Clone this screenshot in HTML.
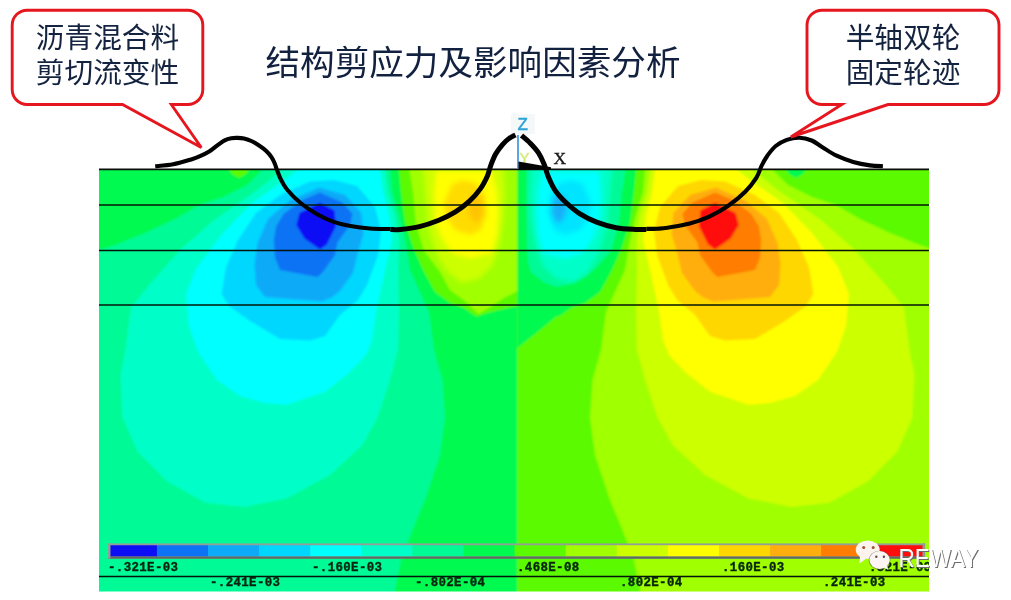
<!DOCTYPE html>
<html lang="zh">
<head>
<meta charset="utf-8">
<title>结构剪应力及影响因素分析</title>
<style>
html,body{margin:0;padding:0;background:#fff;}
body{width:1011px;height:600px;position:relative;overflow:hidden;font-family:"Liberation Sans","Noto Sans CJK SC",sans-serif;}
#stage{position:absolute;left:0;top:0;width:1011px;height:600px;display:block;}
.title{will-change:transform;opacity:0.999;position:absolute;left:0;top:0;width:946px;text-align:center;color:#12213f;font-size:34.6px;line-height:40px;top:43px;white-space:nowrap;letter-spacing:0;}
.call{will-change:transform;opacity:0.999;position:absolute;color:#14233f;font-size:28.7px;line-height:35px;text-align:center;white-space:nowrap;}
#c1{left:12px;top:20.5px;width:191px;}
#c2{left:807px;top:20.5px;width:192px;}
</style>
</head>
<body>
<svg id="stage" width="1011" height="600" viewBox="0 0 1011 600">
<defs>
<clipPath id="plotclip"><rect x="99.0" y="169.3" width="830.0" height="422.2"/></clipPath>
<clipPath id="legclip"><rect x="110" y="545.2" width="812.8" height="11.3"/></clipPath>
<filter id="soft" x="-2%" y="-2%" width="104%" height="104%"><feGaussianBlur stdDeviation="1.3"/></filter>
<filter id="softer" filterUnits="userSpaceOnUse" x="380" y="150" width="280" height="180"><feGaussianBlur stdDeviation="2.4"/></filter>
<filter id="soft2" x="-5%" y="-20%" width="110%" height="140%"><feGaussianBlur stdDeviation="0.45"/></filter>
<filter id="soft3" x="-5%" y="-5%" width="110%" height="110%"><feGaussianBlur stdDeviation="0.5"/></filter>
</defs>
<!-- contour plot -->
<g clip-path="url(#plotclip)">
<g filter="url(#soft)">
<rect x="90" y="160" width="427.5" height="440" fill="#00fa96"/>
<rect x="517.5" y="160" width="422.5" height="440" fill="#a0ff00"/>
<polygon fill="#00fa50" points="90.0,160.0 264.0,160.0 263.0,169.0 247.0,185.0 223.0,197.0 199.0,205.0 175.0,219.0 145.0,233.0 115.0,245.0 90.0,253.0"/>
<polygon fill="#00fa50" points="389.0,160.0 392.0,192.0 399.0,215.0 405.0,240.0 410.0,270.0 420.0,292.0 429.0,312.0 434.0,350.0 442.5,380.0 445.0,417.5 440.0,455.0 425.0,500.0 412.5,530.0 401.0,560.0 393.0,600.0 517.5,600.0 517.5,160.0"/>
<polygon fill="#00ffc8" points="284.0,160.0 282.0,170.0 256.6,190.5 214.0,220.0 180.0,250.0 150.0,284.0 131.0,307.5 125.5,350.0 120.5,375.0 122.6,417.6 137.5,451.6 167.3,481.4 205.6,502.7 243.9,507.0 286.4,498.4 330.0,475.0 362.5,445.0 377.5,417.5 390.0,380.0 398.0,350.0 399.0,312.0 398.0,270.0 399.0,240.0 395.0,215.0 388.0,192.0 384.0,160.0"/>
<polygon fill="#00ffff" points="300.0,160.0 299.0,169.0 282.0,182.0 252.0,203.0 223.0,233.0 197.0,267.0 186.0,294.0 189.0,326.0 198.0,352.0 217.0,380.0 240.0,396.0 265.0,403.0 286.4,404.8 324.7,392.0 350.0,372.0 366.0,355.0 372.0,340.0 376.0,312.0 385.0,270.0 392.0,240.0 389.0,215.0 383.0,192.0 379.0,160.0"/>
<polygon fill="#05d7ff" points="221.5,294.0 226.0,267.0 238.0,240.0 256.0,213.0 280.0,195.0 310.0,181.5 334.0,180.0 357.0,186.0 375.0,207.0 381.0,231.0 378.0,255.0 367.0,285.0 358.0,300.0 340.0,315.0 325.0,336.0 310.0,340.5 280.0,339.0 250.0,321.0 229.0,306.0"/>
<polygon fill="#0aaaf8" points="254.5,264.0 257.5,243.0 268.0,219.0 289.0,201.0 319.0,187.5 345.0,195.0 361.5,213.0 363.5,234.0 358.0,252.0 353.0,273.0 340.0,291.0 332.5,297.0 322.0,301.5 265.0,297.0 256.0,285.0"/>
<polygon fill="#0a73f5" points="273.8,240.0 276.2,226.2 283.8,213.8 302.5,200.0 320.0,192.5 342.5,202.5 352.5,213.8 350.0,225.0 337.5,242.5 335.0,255.0 322.5,272.5 317.5,277.0 280.0,270.0 275.0,257.5"/>
<polygon fill="#0a0af5" points="299.5,213.0 320.0,202.8 334.5,210.5 336.0,226.2 327.0,244.2 320.0,249.5 304.5,238.5 296.3,225.0"/>
<polygon fill="#5cfa00" points="226.0,165.0 252.0,165.0 246.0,174.0 239.0,178.0 232.0,174.0"/>
<polygon fill="#5cfa00" points="398.0,160.0 401.0,192.0 405.0,222.0 413.0,247.0 423.0,270.0 435.0,292.0 450.0,303.0 464.0,308.0 476.0,316.5 495.0,311.0 517.5,306.0 517.5,160.0"/>
<polygon fill="#a0ff00" points="408.0,160.0 413.0,192.0 416.0,223.7 424.0,250.4 440.0,272.0 450.0,290.0 465.0,301.0 478.4,314.0 491.8,306.0 504.0,298.0 517.5,291.0 517.5,160.0"/>
<polygon fill="#5cfa00" points="945.0,160.0 771.0,160.0 772.0,169.0 788.0,185.0 812.0,197.0 836.0,205.0 860.0,219.0 890.0,233.0 920.0,245.0 945.0,253.0"/>
<polygon fill="#5cfa00" points="646.0,160.0 643.0,192.0 636.0,215.0 630.0,240.0 625.0,270.0 615.0,292.0 606.0,312.0 601.0,350.0 592.5,380.0 590.0,417.5 595.0,455.0 610.0,500.0 622.5,530.0 634.0,560.0 642.0,600.0 517.5,600.0 517.5,160.0"/>
<polygon fill="#ccff00" points="751.0,160.0 753.0,170.0 778.4,190.5 821.0,220.0 855.0,250.0 885.0,284.0 904.0,307.5 909.5,350.0 914.5,375.0 912.4,417.6 897.5,451.6 867.7,481.4 829.4,502.7 791.1,507.0 748.6,498.4 705.0,475.0 672.5,445.0 657.5,417.5 645.0,380.0 637.0,350.0 636.0,312.0 637.0,270.0 636.0,240.0 640.0,215.0 647.0,192.0 651.0,160.0"/>
<polygon fill="#ffff00" points="735.0,160.0 736.0,169.0 753.0,182.0 783.0,203.0 812.0,233.0 838.0,267.0 849.0,294.0 846.0,326.0 837.0,352.0 818.0,380.0 795.0,396.0 770.0,403.0 748.6,404.8 710.3,392.0 685.0,372.0 669.0,355.0 663.0,340.0 659.0,312.0 650.0,270.0 643.0,240.0 646.0,215.0 652.0,192.0 656.0,160.0"/>
<polygon fill="#ffd700" points="813.5,294.0 809.0,267.0 797.0,240.0 779.0,213.0 755.0,195.0 725.0,181.5 701.0,180.0 678.0,186.0 660.0,207.0 654.0,231.0 657.0,255.0 668.0,285.0 677.0,300.0 695.0,315.0 710.0,336.0 725.0,340.5 755.0,339.0 785.0,321.0 806.0,306.0"/>
<polygon fill="#ffae10" points="780.5,264.0 777.5,243.0 767.0,219.0 746.0,201.0 716.0,187.5 690.0,195.0 673.5,213.0 671.5,234.0 677.0,252.0 682.0,273.0 695.0,291.0 702.5,297.0 713.0,301.5 770.0,297.0 779.0,285.0"/>
<polygon fill="#ff7d00" points="761.2,240.0 758.8,226.2 751.2,213.8 732.5,200.0 715.0,192.5 692.5,202.5 682.5,213.8 685.0,225.0 697.5,242.5 700.0,255.0 712.5,272.5 717.5,277.0 755.0,270.0 760.0,257.5"/>
<polygon fill="#ff0a0a" points="735.5,213.0 715.0,202.8 700.5,210.5 699.0,226.2 708.0,244.2 715.0,249.5 730.5,238.5 738.7,225.0"/>
<polygon fill="#00fa50" points="809.0,165.0 783.0,165.0 789.0,174.0 796.0,178.0 803.0,174.0"/>
<polygon fill="#00fa50" points="637.0,160.0 634.0,192.0 630.0,222.0 622.0,247.0 612.0,270.0 600.0,292.0 585.0,303.0 571.0,308.0 559.0,316.5 540.0,311.0 517.5,306.0 517.5,160.0"/>
<polygon fill="#00fa50" points="517.5,300.0 563.0,311.0 540.0,330.0 517.5,348.0"/>
<polygon fill="#00fa96" points="627.0,160.0 622.0,192.0 619.0,223.7 611.0,250.4 598.0,266.0 585.0,277.0 570.0,284.0 556.6,287.0 543.2,282.0 531.0,272.0 528.0,262.0 526.5,230.0 526.5,160.0"/>
</g>
<g filter="url(#softer)">
<polygon fill="#ccff00" points="422.0,160.0 425.0,192.0 428.0,226.4 436.0,253.0 447.0,271.8 461.0,282.4 478.4,279.0 491.8,266.4 499.8,245.0 503.8,218.4 505.0,191.7 503.0,160.0"/>
<polygon fill="#ffff00" points="436.0,171.0 434.0,192.0 435.0,218.4 441.0,237.0 452.0,253.0 470.0,258.0 491.8,253.0 497.0,234.4 498.4,213.0 496.8,191.7 492.0,171.0"/>
<polygon fill="#ffdc00" points="452.0,184.0 444.0,203.0 446.0,217.0 455.0,230.0 470.0,235.0 481.0,230.0 487.0,213.0 485.0,195.0 476.0,183.0 463.0,180.0"/>
<polygon fill="#ffc400" points="470.0,197.0 468.0,210.0 472.0,221.0 479.0,223.0 483.5,213.0 481.5,199.0 476.0,193.0"/>
<polygon fill="#00ffc8" points="613.0,160.0 610.0,192.0 607.0,226.4 599.0,253.0 588.0,271.8 574.0,282.4 556.6,279.0 543.2,266.4 535.2,245.0 531.2,218.4 530.0,191.7 532.0,160.0"/>
<polygon fill="#00ffff" points="599.0,171.0 601.0,192.0 600.0,218.4 594.0,237.0 583.0,253.0 565.0,258.0 543.2,253.0 538.0,234.4 536.6,213.0 538.2,191.7 543.0,171.0"/>
<polygon fill="#04e4ff" points="583.0,184.0 591.0,203.0 589.0,217.0 580.0,230.0 565.0,235.0 554.0,230.0 548.0,213.0 550.0,195.0 559.0,183.0 572.0,180.0"/>
<polygon fill="#14b0f8" points="565.0,197.0 567.0,210.0 563.0,221.0 556.0,223.0 551.5,213.0 553.5,199.0 559.0,193.0"/>
</g>
<!-- legend bar -->
<rect x="108" y="543.4" width="817" height="15.2" fill="#939e97"/>
<rect x="108" y="556.4" width="817" height="2.3" fill="#5f6b62"/>
<g clip-path="url(#legclip)"><g filter="url(#soft3)">
<rect x="110.2" y="545" width="47.2" height="11.5" fill="#0a0af5"/>
<rect x="156.9" y="545" width="51.6" height="11.5" fill="#0a73f5"/>
<rect x="208.0" y="545" width="51.6" height="11.5" fill="#0aaaf8"/>
<rect x="259.1" y="545" width="51.6" height="11.5" fill="#05d7ff"/>
<rect x="310.2" y="545" width="51.6" height="11.5" fill="#00ffff"/>
<rect x="361.3" y="545" width="51.6" height="11.5" fill="#00ffc8"/>
<rect x="412.4" y="545" width="51.6" height="11.5" fill="#00fa96"/>
<rect x="463.5" y="545" width="51.6" height="11.5" fill="#00fa50"/>
<rect x="514.6" y="545" width="51.6" height="11.5" fill="#5cfa00"/>
<rect x="565.7" y="545" width="51.6" height="11.5" fill="#a0ff00"/>
<rect x="616.8" y="545" width="51.6" height="11.5" fill="#ccff00"/>
<rect x="667.9" y="545" width="51.6" height="11.5" fill="#ffff00"/>
<rect x="719.0" y="545" width="51.6" height="11.5" fill="#ffd700"/>
<rect x="770.1" y="545" width="51.6" height="11.5" fill="#ffae10"/>
<rect x="821.2" y="545" width="51.6" height="11.5" fill="#ff7d00"/>
<rect x="872.3" y="545" width="51.6" height="11.5" fill="#ff0a0a"/>
</g></g>
<rect x="108" y="543.4" width="2.3" height="15.2" fill="#939e97"/>
<rect x="922.6" y="543.4" width="2.6" height="15.2" fill="#8f9a94"/>
<!-- layer lines -->
<g stroke="#04140a" stroke-width="1.5">
<line x1="99" y1="205" x2="929" y2="205"/>
<line x1="99" y1="250.6" x2="929" y2="250.6"/>
<line x1="99" y1="305" x2="929" y2="305"/>
<line x1="99" y1="576.4" x2="929" y2="576.4"/>
</g>
<g font-family="'Liberation Mono',monospace" font-weight="bold" font-size="12.4" letter-spacing="0.38" fill="#08240f" stroke="#08240f" stroke-width="0.35" filter="url(#soft2)">
<text x="108" y="571">-.321E-03</text>
<text x="210" y="586">-.241E-03</text>
<text x="312" y="571">-.160E-03</text>
<text x="415" y="586">-.802E-04</text>
<text x="517" y="571">.468E-08</text>
<text x="620" y="586">.802E-04</text>
<text x="722" y="571">.160E-03</text>
<text x="823" y="586">.241E-03</text>
<text x="869" y="571">.321E-03</text>
</g>
</g>
<line x1="99" y1="169.4" x2="929" y2="169.4" stroke="#0a0f0a" stroke-width="1.6"/>
<!-- axis triad -->
<rect x="511" y="114" width="24" height="20" fill="#f3f6f8" opacity="0.8"/>
<line x1="518" y1="135" x2="518" y2="168.5" stroke="#3f97dc" stroke-width="1.7"/>
<text x="517.6" y="130" font-family="'Liberation Mono',monospace" font-size="18" fill="#2aa3d6" stroke="#2aa3d6" stroke-width="0.5" opacity="0.99" textLength="10.5" lengthAdjust="spacingAndGlyphs">Z</text>
<text x="519.5" y="163.8" font-family="'Liberation Mono',monospace" font-size="16.5" fill="#cfe860" stroke="#cfe860" stroke-width="0.4" opacity="0.85">Y</text>
<polygon points="518.5,161.5 527,163 540,165.3 551,167.2 551,169.5 518.5,169.5" fill="#050505"/>
<text x="553.5" y="164.3" font-family="'Liberation Serif',serif" font-size="17.5" fill="#151515" stroke="#151515" stroke-width="0.35" opacity="0.99">X</text>
<!-- rut profile -->
<g fill="none" stroke="#020202" stroke-linecap="butt" stroke-linejoin="round">
<path stroke-width="4.1" d="M155.2,166.2 C158.2,165.9 167.0,165.5 173.2,164.3 C179.4,163.1 188.1,160.3 192.6,159.0 C197.1,157.7 197.2,157.4 200.0,156.2 C202.8,155.0 206.1,153.5 209.2,151.6 C212.2,149.7 215.7,146.6 218.3,144.7 C220.9,142.8 222.5,141.4 224.7,140.3 C226.8,139.2 229.0,138.6 231.2,138.2 C233.3,137.8 235.5,137.9 237.6,137.9 C239.7,137.9 241.7,137.9 244.0,138.4 C246.3,138.9 248.9,139.9 251.3,141.0 C253.8,142.1 256.2,143.6 258.7,145.2 C261.1,146.8 263.9,148.7 266.0,150.7 C268.1,152.7 270.1,155.0 271.5,157.1 C272.9,159.2 273.8,161.4 274.7,163.5 C275.6,165.6 276.0,167.3 277.0,169.9 C278.0,172.5 279.1,175.9 280.7,179.1 C282.3,182.3 283.5,185.2 286.8,189.2 C290.1,193.2 295.5,198.8 300.6,203.0 C305.7,207.2 311.7,211.0 317.2,214.2 C322.7,217.3 328.2,219.9 333.8,221.9 C339.4,223.9 344.5,224.9 350.5,226.0 C356.5,227.1 363.3,228.0 369.9,228.5 C376.5,229.0 386.9,228.9 390.3,229.0"/>
<path stroke-width="5" d="M390.3,229.5 C391.9,229.5 395.1,230.0 400.0,229.5 C404.9,229.0 412.9,228.2 419.4,226.6 C425.9,225.0 432.8,222.6 438.8,220.2 C444.8,217.8 450.3,215.0 455.4,211.9 C460.5,208.8 465.0,205.2 469.2,201.4 C473.4,197.6 477.3,193.1 480.3,188.9 C483.3,184.8 485.4,180.4 487.2,176.5 C488.9,172.6 489.4,169.1 490.8,165.4 C492.2,161.7 493.6,157.8 495.5,154.3 C497.4,150.8 500.2,147.3 502.5,144.6 C504.8,141.9 507.2,139.8 509.4,138.2 C511.6,136.6 514.5,135.4 515.5,134.9"/>
<path stroke-width="5" d="M521.5,135.5 C523.0,136.8 527.4,140.3 530.2,143.2 C533.0,146.1 536.2,149.4 538.5,152.9 C540.8,156.4 542.4,160.1 544.0,164.0 C545.6,167.9 546.4,172.1 548.2,176.5 C550.1,180.9 552.1,185.9 555.1,190.3 C558.1,194.7 562.1,198.9 566.2,202.8 C570.4,206.7 574.9,210.7 580.0,213.9 C585.1,217.1 590.6,219.9 596.6,222.2 C602.6,224.5 609.5,226.5 616.0,227.7 C622.5,228.9 630.4,229.2 635.4,229.5 C640.4,229.8 644.5,229.5 646.3,229.5"/>
<path stroke-width="4.1" d="M646.3,228.9 C648.2,228.9 654.0,228.9 657.6,228.7 C661.2,228.5 662.3,228.6 667.7,227.7 C673.1,226.8 682.9,225.3 689.8,223.5 C696.7,221.7 702.7,219.6 709.2,216.6 C715.7,213.6 722.6,209.7 728.6,205.5 C734.6,201.3 740.6,196.3 745.2,191.7 C749.8,187.1 753.5,182.2 756.3,177.8 C759.1,173.4 759.9,169.1 761.8,165.4 C763.6,161.7 765.1,158.9 767.4,155.7 C769.7,152.5 772.5,148.6 775.7,146.0 C778.9,143.4 782.9,141.3 786.8,139.9 C790.7,138.5 795.1,137.6 799.2,137.7 C803.4,137.8 807.8,138.9 811.7,140.5 C815.6,142.1 818.6,144.9 822.8,147.4 C826.9,149.9 831.5,153.3 836.6,155.7 C841.7,158.1 847.7,160.4 853.2,162.0 C858.8,163.6 865.0,164.7 869.9,165.4 C874.8,166.1 880.7,166.1 882.9,166.2"/>
</g>
<!-- callouts -->
<g fill="#ffffff" stroke="#e6161e" stroke-width="2.9" stroke-linejoin="miter">
<path d="M27.2,10.2 H187.8 A15,15 0 0 1 202.8,25.2 V89.5 A15,15 0 0 1 187.8,104.5 H171.3 L201.3,147.5 L122.5,104.5 H27.2 A15,15 0 0 1 12.2,89.5 V25.2 A15,15 0 0 1 27.2,10.2 Z"/>
<path d="M822,10.2 H984 A15,15 0 0 1 999,25.2 V89.5 A15,15 0 0 1 984,104.5 H888 L790.8,137 L841.8,104.5 H822 A15,15 0 0 1 807,89.5 V25.2 A15,15 0 0 1 822,10.2 Z"/>
</g>
<!-- watermark -->
<g>
<ellipse cx="867.7" cy="549.8" rx="12" ry="9.2" fill="#fdf3ee"/>
<polygon points="860,556 859.5,563.5 867,558" fill="#fdf3ee"/>
<circle cx="863.7" cy="547.6" r="1.5" fill="#a0532d"/>
<circle cx="873.2" cy="547.6" r="1.5" fill="#a0532d"/>
<ellipse cx="879.6" cy="560.3" rx="10.8" ry="9.6" fill="#4a4a3a" opacity="0.55"/>
<ellipse cx="879.6" cy="560" rx="10.2" ry="9" fill="#fcf5f3"/>
<polygon points="883,567 888.5,570 886.5,564" fill="#fcf5f3"/>
<circle cx="876.3" cy="556.8" r="1.2" fill="#5a4a4a"/>
<circle cx="883.9" cy="556.8" r="1.2" fill="#5a4a4a"/>
<g font-family="'Liberation Sans',sans-serif" font-size="26" opacity="0.99">
<text x="899.6" y="568" fill="#6a6a6a" textLength="80" lengthAdjust="spacingAndGlyphs">REWAY</text>
<text x="898.6" y="567" fill="#ffffff" textLength="80" lengthAdjust="spacingAndGlyphs">REWAY</text>
</g>
</g>
</svg>
<div class="title">结构剪应力及影响因素分析</div>
<div class="call" id="c1">沥青混合料<br>剪切流变性</div>
<div class="call" id="c2">半轴双轮<br>固定轮迹</div>
</body>
</html>
